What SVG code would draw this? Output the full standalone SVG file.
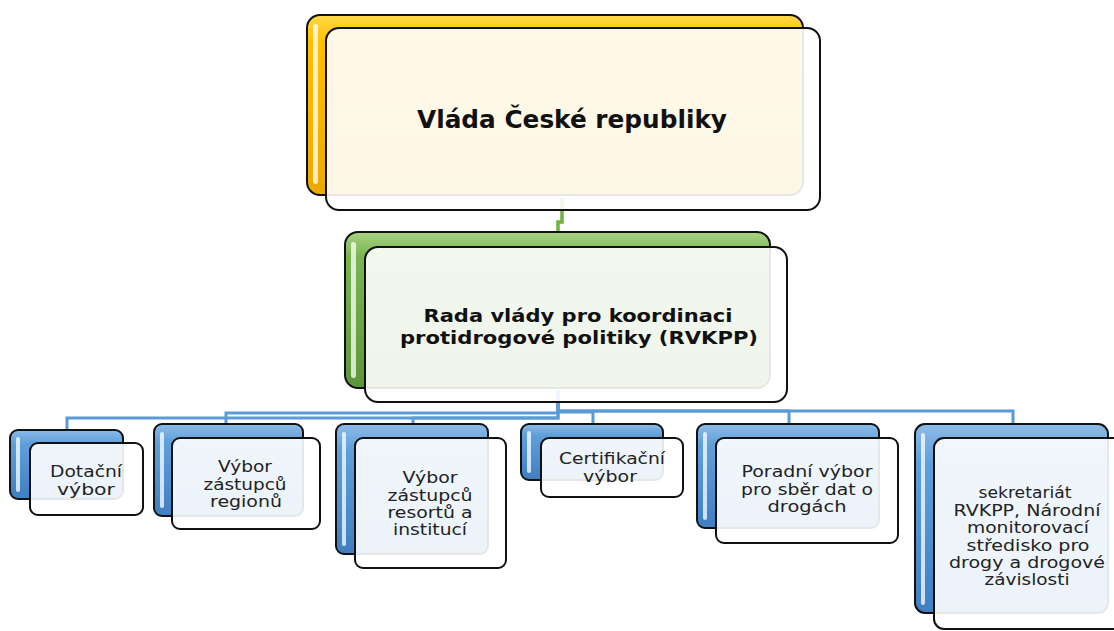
<svg xmlns="http://www.w3.org/2000/svg" width="1114" height="631" viewBox="0 0 1114 631">
<defs>
<linearGradient id="gY" x1="0" y1="0" x2="0" y2="1"><stop offset="0" stop-color="#ffd84a"/><stop offset="0.15" stop-color="#ffc000"/><stop offset="1" stop-color="#eaa900"/></linearGradient>
<linearGradient id="gG" x1="0" y1="0" x2="0" y2="1"><stop offset="0" stop-color="#a8d483"/><stop offset="0.15" stop-color="#7ab552"/><stop offset="1" stop-color="#5c9638"/></linearGradient>
<linearGradient id="gB" x1="0" y1="0" x2="0" y2="1"><stop offset="0" stop-color="#8dbbe8"/><stop offset="0.2" stop-color="#5f9fd9"/><stop offset="1" stop-color="#3f7fc2"/></linearGradient>
<style>
.back{stroke:#111;stroke-width:2}
.front{fill:#fff;fill-opacity:0.9;stroke:#111;stroke-width:2}
.hl{fill:#fff;fill-opacity:0.75}
.y{fill:url(#gY)} .g{fill:url(#gG)} .b{fill:url(#gB)}
.t{font-family:"DejaVu Sans","Verdana",sans-serif;font-size:16.5px;fill:#222;text-anchor:middle}
.tb{font-family:"DejaVu Sans","Verdana",sans-serif;font-weight:bold;fill:#111;text-anchor:middle}
.c{fill:none;stroke:#5b9bd5;stroke-width:3}
.cg{fill:none;stroke:#6db33f;stroke-width:3.5}
</style>
</defs>
<rect width="1114" height="631" fill="#fff"/>
<g id="connectors">
<path class="cg" d="M562,197 V222 H558 V234"/>
<path class="c" d="M558,390 V418 H67 V431"/>
<path class="c" d="M558,390 V413 H226 V425"/>
<path class="c" d="M558,390 V418 H413 V425"/>
<path class="c" d="M558,390 V412 H593 V425"/>
<path class="c" d="M558,390 V411 H789 V425"/>
<path class="c" d="M558,390 V411 H1013 V425"/>
</g>
<g id="vlada">
<rect class="back y" x="307" y="15" width="496" height="180" rx="13"/>
<rect class="hl" x="313" y="24" width="5" height="160" rx="2.5"/>
<rect class="front" x="326" y="28" width="494" height="182" rx="13"/>
<text class="tb" x="572" y="128" font-size="24" textLength="310" lengthAdjust="spacingAndGlyphs">Vláda České republiky</text>
</g>
<g id="rvkpp">
<rect class="back g" x="345" y="232" width="425" height="156" rx="13"/>
<rect class="hl" x="351" y="242" width="5" height="136" rx="2.5"/>
<rect class="front" x="365" y="247" width="422" height="155" rx="13"/>
<text class="tb" font-size="17.5"><tspan x="578" y="322" textLength="309" lengthAdjust="spacingAndGlyphs">Rada vlády pro koordinaci</tspan><tspan x="579" y="344" textLength="358" lengthAdjust="spacingAndGlyphs">protidrogové politiky (RVKPP)</tspan></text>
</g>
<g id="dotacni">
<rect class="back b" x="10" y="430" width="113" height="69" rx="8"/>
<rect class="hl" x="16" y="437" width="4" height="55" rx="2"/>
<rect class="front" x="30" y="443" width="113" height="72" rx="8"/>
<text class="t"><tspan x="86" y="477" textLength="72" lengthAdjust="spacingAndGlyphs">Dotační</tspan><tspan x="86" y="495" textLength="58" lengthAdjust="spacingAndGlyphs">výbor</tspan></text>
</g>
<g id="regiony">
<rect class="back b" x="154" y="424" width="149" height="92" rx="8"/>
<rect class="hl" x="160" y="432" width="4" height="76" rx="2"/>
<rect class="front" x="172" y="438" width="148" height="91" rx="8"/>
<text class="t"><tspan x="245" y="472" textLength="54" lengthAdjust="spacingAndGlyphs">Výbor</tspan><tspan x="245" y="490" textLength="83" lengthAdjust="spacingAndGlyphs">zástupců</tspan><tspan x="246" y="507" textLength="72" lengthAdjust="spacingAndGlyphs">regionů</tspan></text>
</g>
<g id="resorty">
<rect class="back b" x="336" y="424" width="152" height="130" rx="8"/>
<rect class="hl" x="342" y="432" width="4" height="114" rx="2"/>
<rect class="front" x="355" y="438" width="151" height="130" rx="8"/>
<text class="t"><tspan x="430" y="483" textLength="55" lengthAdjust="spacingAndGlyphs">Výbor</tspan><tspan x="430" y="501" textLength="85" lengthAdjust="spacingAndGlyphs">zástupců</tspan><tspan x="430" y="518" textLength="85" lengthAdjust="spacingAndGlyphs">resortů a</tspan><tspan x="430" y="535" textLength="74" lengthAdjust="spacingAndGlyphs">institucí</tspan></text>
</g>
<g id="certifikacni">
<rect class="back b" x="521" y="424" width="142" height="56" rx="8"/>
<rect class="hl" x="527" y="431" width="4" height="42" rx="2"/>
<rect class="front" x="541" y="438" width="142" height="59" rx="8"/>
<text class="t"><tspan x="612" y="464" textLength="106" lengthAdjust="spacingAndGlyphs">Certifikační</tspan><tspan x="610" y="482" textLength="54" lengthAdjust="spacingAndGlyphs">výbor</tspan></text>
</g>
<g id="poradni">
<rect class="back b" x="697" y="424" width="182" height="104" rx="8"/>
<rect class="hl" x="703" y="432" width="4" height="88" rx="2"/>
<rect class="front" x="716" y="438" width="182" height="105" rx="8"/>
<text class="t"><tspan x="807" y="477" textLength="131" lengthAdjust="spacingAndGlyphs">Poradní výbor</tspan><tspan x="807" y="495" textLength="132" lengthAdjust="spacingAndGlyphs">pro sběr dat o</tspan><tspan x="807" y="512" textLength="79" lengthAdjust="spacingAndGlyphs">drogách</tspan></text>
</g>
<g id="sekretariat">
<rect class="back b" x="915" y="424" width="193" height="189" rx="10"/>
<rect class="hl" x="921" y="433" width="4" height="172" rx="2"/>
<rect class="front" x="934" y="438" width="192" height="191" rx="10"/>
<text class="t"><tspan x="1025" y="498" textLength="93" lengthAdjust="spacingAndGlyphs">sekretariát</tspan><tspan x="1027" y="516" textLength="147" lengthAdjust="spacingAndGlyphs">RVKPP, Národní</tspan><tspan x="1028" y="533" textLength="122" lengthAdjust="spacingAndGlyphs">monitorovací</tspan><tspan x="1028" y="551" textLength="123" lengthAdjust="spacingAndGlyphs">středisko pro</tspan><tspan x="1027" y="568" textLength="156" lengthAdjust="spacingAndGlyphs">drogy a drogové</tspan><tspan x="1027" y="585" textLength="85" lengthAdjust="spacingAndGlyphs">závislosti</tspan></text>
</g>
</svg>
